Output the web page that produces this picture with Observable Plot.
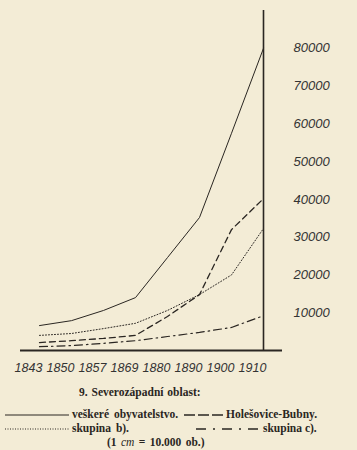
<!DOCTYPE html>
<html>
<head>
<meta charset="utf-8">
<script src="https://cdn.jsdelivr.net/npm/d3@7"></script>
<script src="https://cdn.jsdelivr.net/npm/@observablehq/plot@0.6"></script>
<style>
  html, body { margin: 0; padding: 0; background: #f3ecd6; }
  #wrap { position: relative; width: 357px; height: 450px; overflow: hidden; }
  .cap { position: absolute; font-family: "Liberation Serif", "DejaVu Serif", serif; font-weight: bold; font-size: 11.5px; color: #2a2622; white-space: nowrap; line-height: 1; }
  .sw { position: absolute; }
</style>
</head>
<body>
<div id="wrap">
  <div id="chart"></div>
  <div class="cap" style="left:79px; top:387px; word-spacing:1px;">9. Severozápadní oblast:</div>
  <svg class="sw" style="left:5px; top:412px;" width="64" height="6"><line x1="0" x2="64" y1="3" y2="3" stroke="#2a2622" stroke-width="1"/></svg>
  <div class="cap" style="left:72px; top:409px; word-spacing:2px;">veškeré obyvatelstvo.</div>
  <svg class="sw" style="left:184px; top:412px;" width="40" height="6"><line x1="0" x2="40" y1="3" y2="3" stroke="#2a2622" stroke-width="1.4" stroke-dasharray="11,3"/></svg>
  <div class="cap" style="left:226px; top:409px;">Holešovice-Bubny.</div>
  <svg class="sw" style="left:5px; top:426px;" width="64" height="6"><line x1="0" x2="64" y1="3" y2="3" stroke="#2a2622" stroke-width="1" stroke-dasharray="1,1.5"/></svg>
  <div class="cap" style="left:72px; top:423px; word-spacing:2px;">skupina b).</div>
  <svg class="sw" style="left:196px; top:426px;" width="62" height="6"><line x1="0" x2="62" y1="3" y2="3" stroke="#2a2622" stroke-width="1.4" stroke-dasharray="10,7,2,7"/></svg>
  <div class="cap" style="left:263px; top:423px;">skupina c).</div>
  <div class="cap" style="left:107px; top:437px; word-spacing:1.5px;">(1 <i style="font-weight:normal">cm</i> = 10.000 ob.)</div>
</div>
<script>
const years = ["1843", "1850", "1857", "1869", "1880", "1890", "1900", "1910"];
const total = [6600, 7900, 10600, 14000, 24600, 35200, 57500, 80000];       // veškeré obyvatelstvo
const holesovice = [2100, 2600, 3200, 4000, 9000, 14800, 32000, 40200];    // Holešovice-Bubny
const skupinaB = [4000, 4500, 5800, 7200, 10600, 14800, 20000, 32300];     // skupina b)
const skupinaC = [1000, 1300, 1900, 2600, 3700, 4800, 6100, 9200];         // skupina c)
const yTicks = [10000, 20000, 30000, 40000, 50000, 60000, 70000, 80000];

const rows = (vals) => years.map((y, i) => ({year: y, value: vals[i]}));
const ink = "#2a2622";

const chart = Plot.plot({
  width: 357,
  height: 385,
  marginLeft: 20,
  marginRight: 75,
  marginTop: 10,
  marginBottom: 35,
  style: {background: "transparent", color: ink, overflow: "visible"},
  x: {type: "point", domain: years, axis: null},
  y: {domain: [0, 90000], axis: null},
  marks: [
    Plot.axisY(yTicks, {anchor: "right", label: null, tickSize: 0, tickPadding: 11, tickFormat: d => String(d),
      fontFamily: "Liberation Sans", fontStyle: "italic", fontSize: 13, fill: "#333"}),
    Plot.text(years, {x: d => d, frameAnchor: "bottom", dy: 21, dx: -11,
      fontFamily: "Liberation Sans", fontStyle: "italic", fontSize: 12.5, fill: "#333"}),
    Plot.ruleX(["1910"], {stroke: ink, strokeWidth: 1.6}),
    Plot.ruleY([0], {stroke: ink, strokeWidth: 2.2}),
    Plot.line(rows(total), {x: "year", y: "value", stroke: ink, strokeWidth: 1}),
    Plot.line(rows(holesovice), {x: "year", y: "value", stroke: ink, strokeWidth: 1.3, strokeDasharray: "6,4"}),
    Plot.line(rows(skupinaB), {x: "year", y: "value", stroke: ink, strokeWidth: 1, strokeDasharray: "1,2"}),
    Plot.line(rows(skupinaC), {x: "year", y: "value", stroke: ink, strokeWidth: 1.2, strokeDasharray: "8,4,1.5,4"})
  ]
});
document.getElementById("chart").appendChild(chart);
</script>
</body>
</html>
